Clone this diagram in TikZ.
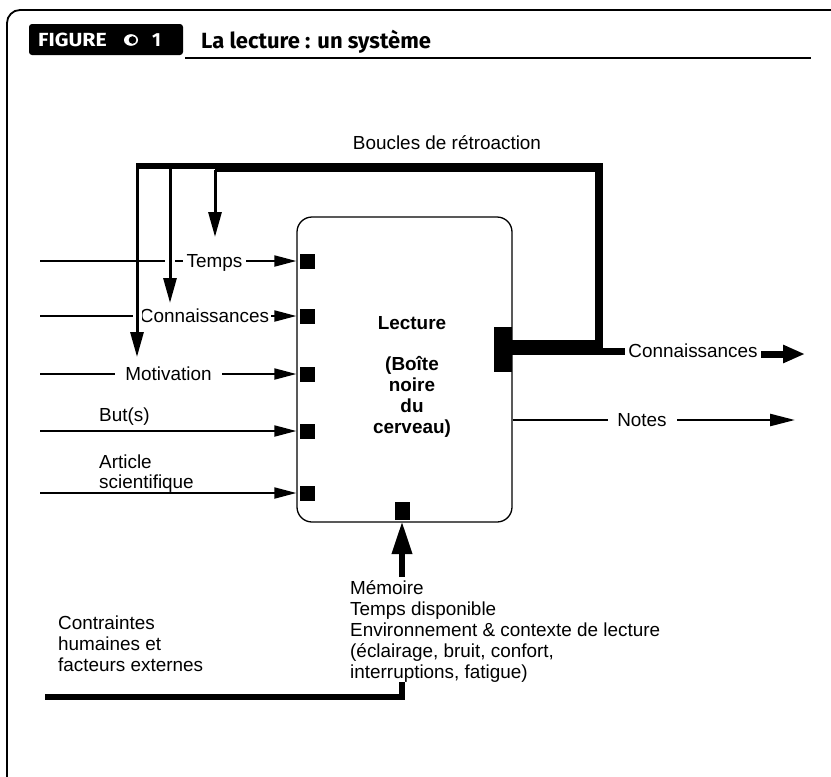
\documentclass[tikz,border=0pt]{standalone}
\usepackage{fontspec}
\setmainfont{Liberation Sans}
\newfontfamily\hdrfont{Fira Sans}
\usetikzlibrary{arrows.meta}
\begin{document}
\begin{tikzpicture}[x=1pt,y=-1pt,
  lab/.style={font=\fontsize{18.9}{21}\selectfont, inner sep=0pt},
  labw/.style={lab, fill=white, inner ysep=1pt},
  inarr/.style={line width=2pt, -{Triangle[length=22pt,width=11pt]}},
  fbarr/.style={line width=3pt, -{Triangle[length=25pt,width=13pt]}},
  halo/.style={white, line width=10pt},
  port/.style={fill=black, inner sep=0pt, minimum size=15pt},
  thickline/.style={line width=6.5pt, line join=miter},
  hdrtxt/.style={text=white, font=\hdrfont\bfseries\fontsize{19}{19}\selectfont, anchor=base west, inner sep=0pt}
]
\useasboundingbox (0,0) rectangle (831,777);
\clip (0,0) rectangle (831,777);

% outer frame
\draw[line width=1.8pt, rounded corners=13pt] (7,800) -- (7,10) -- (850,10);

% header
\node[fill=black, rounded corners=3pt, minimum width=154pt, minimum height=31pt, inner sep=0pt] (hdr) at (106,39.5) {};
\node[hdrtxt] (figword) at (38,46.5) {\scalebox{1.12}[1]{FIGURE}};
\fill[white] (131,40) ellipse [x radius=7pt, y radius=5.8pt];
\fill[black] (132.5,40) circle [radius=3.8pt];
\node[hdrtxt] (fignum) at (152,46.5) {1};
\node[font=\hdrfont\bfseries\fontsize{22}{22}\selectfont, anchor=base west, inner sep=0pt] (title) at (201,48) {La lecture : un système};
\coordinate (ulA) at (185,58);
\coordinate (ulB) at (811,58);
\draw[line width=1.6pt] (ulA) -- (ulB);

% main box
\node[draw, line width=1.3pt, rounded corners=15pt, minimum width=215pt, minimum height=305pt, inner sep=0pt] (box) at (404.5,369.5) {};
\node[font=\bfseries\fontsize{18.9}{20.75}\selectfont, align=center, anchor=north, inner sep=0pt] (boxtxt) at (412,314.3)
  {\rule{0pt}{14.5pt}Lecture\\[21pt](Boîte\\noire\\du\\cerveau)};

% input ports
\foreach \n/\yy in {T/261, C/316, M/374, B/431, A/493} {
  \node[port] (sq\n) at (307.5,\yy) {};
  \coordinate (in\n) at (40,\yy);
}

% input connectors
\foreach \n in {T,C,M,B,A} {
  \draw[inarr] (in\n) -- (box.west |- sq\n);
}

% labels on the inputs
\node[labw, inner xsep=4pt, anchor=base] (lT) at (214.5,267.8) {Temps};
\node[labw, inner xsep=2pt, anchor=base] (lC) at (204.5,322.8) {Connaissances};
\node[labw, inner xsep=10pt, anchor=base] (lM) at (168.5,380.8) {Motivation};
\node[lab, anchor=base west] (lB) at (99,421.8) {But(s)};
\node[lab, font=\fontsize{18.9}{20}\selectfont, align=left, anchor=north west] (lA) at (99,454) {\rule{0pt}{14.5pt}Article\\scientifique};

% feedback loop
\node[lab, anchor=base] (boucles) at (447,149.8) {Boucles de rétroaction};
\fill (135.5,163) rectangle (215,168.5);
\fill (215,163) rectangle (603,172);
\fill (595,163) rectangle (603,355);
\node[fill=black, inner sep=0pt, minimum width=18pt, minimum height=45pt] (outport) at (503,349.5) {};
\fill (outport.east |- 0,340) rectangle (603,355);
\fill (603,348) rectangle (625,355);

\coordinate (fb1) at (137,165);
\coordinate (fb2) at (170,168);
\coordinate (fb3) at (215,170);
\draw[halo] (170,250) -- (170,272);
\draw[halo, line width=9pt] (137,305) -- (137,328);
\draw[fbarr] (fb1) -- (137,357);
\draw[fbarr] (fb2) -- (170,303);
\draw[fbarr] (fb3) -- (215,237);

% outputs
\node[lab, anchor=base] (outC) at (693,357.8) {Connaissances};
\coordinate (outCend) at (805,354);
\draw[line width=7pt, -{Triangle[length=22pt,width=17pt]}] (761,354) -- (outCend);

\node[lab, anchor=base] (notes) at (642,426.8) {Notes};
\coordinate (notesEnd) at (795,420);
\draw[line width=2.5pt] (box.east |- 0,420) -- (608,420);
\draw[line width=2.5pt, -{Triangle[length=25pt,width=12pt]}] (677,420) -- (notesEnd);

% memory input
\node[fill=black, inner sep=0pt, minimum width=15pt, minimum height=18pt] (mem) at (402.5,511) {};
\draw[line width=6.5pt, -{Triangle[length=33pt,width=19pt]}] (402,577) -- (402,521);
\node[lab, font=\fontsize{18.9}{21.2}\selectfont, align=left, anchor=north west] (memtxt) at (350,579.3)
  {\rule{0pt}{14.5pt}Mémoire\\Temps disponible\\Environnement \& contexte de lecture\\(éclairage, bruit, confort,\\interruptions, fatigue)};

% constraints
\node[lab, font=\fontsize{18.9}{21}\selectfont, align=left, anchor=north west] (contr) at (58,614.3)
  {\rule{0pt}{14.5pt}Contraintes\\humaines et\\facteurs externes};
\coordinate (cstart) at (45,697);
\coordinate (ccorner) at (402,697);
\coordinate (cend) at (402,682);
\draw[thickline] (cstart) -- (ccorner) -- (cend);
\end{tikzpicture}
\end{document}
